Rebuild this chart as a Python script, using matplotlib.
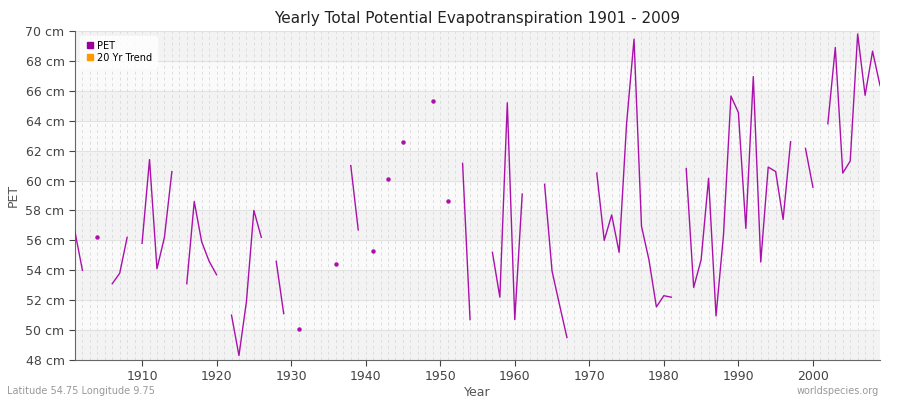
import numpy as np
import matplotlib.pyplot as plt

nan = np.nan
years = list(range(1901, 2010))
pet = [
    56.57, 54.0, nan, 56.2, nan, 53.1, 53.8, 56.2, nan, 55.8,   # 1901-1910
    61.4, 54.1, 56.2, 60.6, nan, 53.1, 58.6, 55.9, 54.6, 53.7,  # 1911-1920
    nan, 51.0, 48.3, 51.9, 58.0, 56.2, nan, 54.6, 51.1, nan,    # 1921-1930
    50.1, nan, nan, nan, nan, 54.4, nan, 61.0, 56.7, nan,       # 1931-1940
    55.3, nan, 60.1, nan, 62.6, nan, nan, nan, 65.3, nan,       # 1941-1950
    58.6, nan, 61.15, 50.7, nan, nan, 55.2, 52.2, 65.2, 50.7,   # 1951-1960
    59.1, nan, nan, 59.75, 53.95, 51.7, 49.5, nan, nan, nan,    # 1961-1970
    60.5, 56.0, 57.7, 55.2, 63.8, 69.45, 56.95, 54.7, 51.55, 52.3,  # 1971-1980
    52.2, nan, 60.8, 52.85, 54.7, 60.15, 50.95, 56.35, 65.65, 64.55,  # 1981-1990
    56.8, 66.95, 54.55, 60.9, 60.6, 57.4, 62.6, nan, 62.15, 59.55,    # 1991-2000
    nan, 63.8, 68.9, 60.5, 61.3, 69.8, 65.7, 68.65, 66.35,            # 2001-2009
]
y_ticks = list(range(48, 71, 2))
x_ticks = [1910, 1920, 1930, 1940, 1950, 1960, 1970, 1980, 1990, 2000]

line_color = "#aa11aa"
fig = plt.figure(figsize=(9, 4), dpi=100)
ax = fig.add_axes([0.0833, 0.1, 0.8945, 0.8225])

# alternating bands
for i, lo in enumerate(y_ticks[:-1]):
    ax.axhspan(lo, lo + 2, color="#f3f3f3" if i % 2 == 0 else "#fafafa", zorder=0, lw=0)
for t in y_ticks:
    ax.axhline(t, color="#e2e2e2", lw=0.8, zorder=1)
for yr in years:
    ax.axvline(yr, color="#dddddd", lw=0.7, ls=(0, (3, 3)), zorder=1)

yrs = np.array(years)
vals = np.array(pet, dtype=float)
ax.plot(yrs, vals, color=line_color, lw=1.0, zorder=3)
# isolated points
for i in range(len(vals)):
    if np.isnan(vals[i]):
        continue
    prev_nan = i == 0 or np.isnan(vals[i - 1])
    next_nan = i == len(vals) - 1 or np.isnan(vals[i + 1])
    if prev_nan and next_nan:
        ax.plot(yrs[i], vals[i], "o", color=line_color, ms=2.2, zorder=3)

ax.set_xlim(1901, 2009)
ax.set_ylim(48, 70)
ax.set_yticks(y_ticks)
ax.set_yticklabels([f"{t} cm" for t in y_ticks])
ax.set_xticks(x_ticks)
ax.tick_params(colors="#444444", labelsize=9, length=4)
for s in ["top", "right"]:
    ax.spines[s].set_visible(False)
for s in ["left", "bottom"]:
    ax.spines[s].set_color("#666666")

ax.set_title("Yearly Total Potential Evapotranspiration 1901 - 2009", fontsize=11, color="#222222")
ax.set_xlabel("Year", fontsize=9, color="#555555", labelpad=2)
ax.set_ylabel("PET", fontsize=9, color="#555555")

h1 = plt.Line2D([], [], marker="s", ls="", color="#990099", ms=4)
h2 = plt.Line2D([], [], marker="s", ls="", color="#ff9900", ms=4)
ax.legend([h1, h2], ["PET", "20 Yr Trend"], loc="upper left", fontsize=7,
          frameon=True, facecolor="white", edgecolor="white", handletextpad=0.3,
          borderpad=0.5, labelspacing=0.2, handlelength=1)

fig.text(0.008, 0.015, "Latitude 54.75 Longitude 9.75", fontsize=7, color="#999999")
fig.text(0.977, 0.015, "worldspecies.org", fontsize=7, color="#999999", ha="right")

fig.savefig("out.png")
